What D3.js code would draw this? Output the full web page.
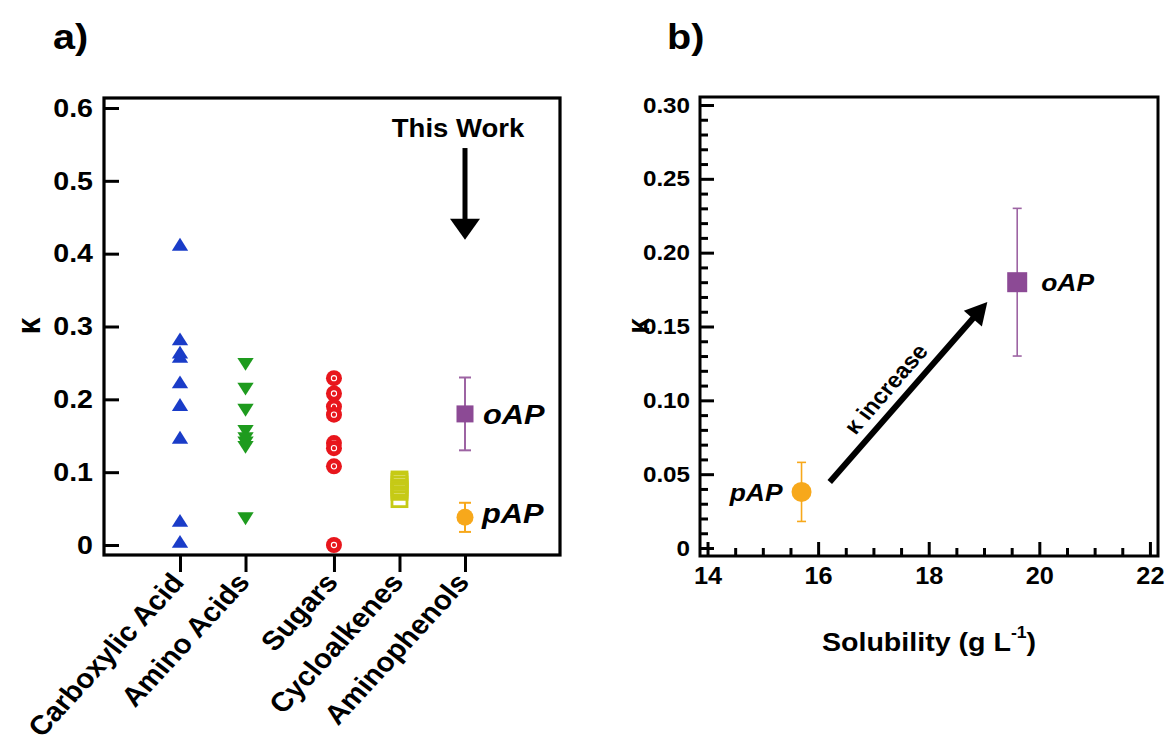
<!DOCTYPE html>
<html>
<head>
  <meta charset="utf-8">
  <script src="https://d3js.org/d3.v7.min.js"></script>
  <style>
    body { margin: 0; background: #fff; }
    svg { display: block; }
    text { font-family: "Liberation Sans", Arial, sans-serif; font-weight: bold; fill: #000; }
  </style>
</head>
<body>
  <div id="chart"></div>

  <script>
    // panel a: kappa by compound class
    const categories = ["Carboxylic Acid", "Amino Acids", "Sugars", "Cycloalkenes", "Aminophenols"];
    const catPos = [1, 2, 3.35, 4.35, 5.35];
    const carboxylic = [0.41, 0.28, 0.262, 0.256, 0.221, 0.19, 0.145, 0.031, 0.002];
    const aminoAcids = [0.251, 0.217, 0.188, 0.159, 0.149, 0.143, 0.137, 0.039];
    const sugars = [0.229, 0.208, 0.19, 0.179, 0.14, 0.133, 0.108, 0];
    const cycloalkenes = [0.09, 0.087, 0.083, 0.079, 0.076, 0.073, 0.063];
    const yTicksA = [0, 0.1, 0.2, 0.3, 0.4, 0.5, 0.6];

    // this work (both panels)
    const names = ["oAP", "pAP"];
    const kappa = [0.18, 0.038];
    const kappaErr = [0.05, 0.02];
    const solubility = [19.6, 15.7];

    // panel b ticks
    const xTicksB = [14, 16, 18, 20, 22];
    const yTicksB = [0, 0.05, 0.10, 0.15, 0.20, 0.25, 0.30];

    const colors = { blue: "#1a3cc8", green: "#1e9b1e", red: "#e8161c", yellow: "#c6ca16",
                     oAP: "#8c4a95", oAPbar: "#9d64a3", pAP: "#f7a81b" };

    // the figure's lettering is slightly wide
    const SX = 1.1;

    const svg = d3.select("#chart").append("svg")
      .attr("width", 1167).attr("height", 747);

    function label(g, x, y, str, size, rot, extra) {
      const t = g.append("text")
        .attr("transform", `translate(${x},${y}) scale(${SX},1)` + (rot ? ` rotate(${rot})` : ""))
        .style("font-size", size + "px")
        .text(str);
      if (extra) extra(t);
      return t;
    }

    // ---------- panel a ----------
    const xA = d3.scaleLinear().domain([-0.16, 6.8]).range([104, 560]);
    const yA = d3.scaleLinear().domain([-0.0137, 0.6137]).range([555, 98]);
    const gA = svg.append("g");

    // y axis with inward ticks
    gA.append("g")
      .attr("transform", `translate(${xA.range()[0]},0)`)
      .call(d3.axisLeft(yA).tickValues(yTicksA).tickSize(-15)
        .tickFormat(d => d === 0 ? "0" : d3.format(".1f")(d)))
      .call(g => g.select(".domain").remove())
      .call(g => g.selectAll("line").attr("stroke", "#000").attr("stroke-width", 3))
      .call(g => g.selectAll("text").attr("font-family", null).attr("x", 0)
        .attr("transform", `translate(-11,0) scale(${SX},1)`)
        .style("font-size", "26px"));

    // category axis with outward ticks and rotated labels
    gA.append("g")
      .attr("transform", `translate(0,${yA.range()[0]})`)
      .call(d3.axisBottom(xA).tickValues(catPos).tickSize(17)
        .tickFormat((d, i) => categories[i]))
      .call(g => g.select(".domain").remove())
      .call(g => g.selectAll("line").attr("stroke", "#000").attr("stroke-width", 3))
      .call(g => g.selectAll("text")
        .attr("font-family", null)
        .style("font-size", "27px")
        .attr("text-anchor", "end")
        .attr("x", 0).attr("y", 0).attr("dy", 0)
        .attr("transform", `translate(5,28) scale(${SX},1) rotate(-50)`));

    // frame
    gA.append("rect")
      .attr("x", xA.range()[0]).attr("y", yA.range()[1])
      .attr("width", xA.range()[1] - xA.range()[0])
      .attr("height", yA.range()[0] - yA.range()[1])
      .attr("fill", "none").attr("stroke", "#000").attr("stroke-width", 3.2);

    const tri = d3.symbol().type(d3.symbolTriangle).size(95);

    gA.selectAll(".carb").data(carboxylic).join("path")
      .attr("d", tri)
      .attr("transform", d => `translate(${xA(catPos[0])},${yA(d)}) scale(${SX},1)`)
      .attr("fill", colors.blue);

    gA.selectAll(".amino").data(aminoAcids).join("path")
      .attr("d", tri)
      .attr("transform", d => `translate(${xA(catPos[1])},${yA(d)}) scale(${SX},1) rotate(180)`)
      .attr("fill", colors.green);

    const sug = gA.selectAll(".sug").data(sugars).join("g")
      .attr("transform", d => `translate(${xA(catPos[2])},${yA(d)})`);
    sug.append("circle").attr("r", 8).attr("fill", colors.red);
    sug.append("circle").attr("r", 2.6).attr("fill", "none")
      .attr("stroke", "#fff").attr("stroke-width", 1.1);

    gA.selectAll(".cyc").data(cycloalkenes).join("rect")
      .attr("x", xA(catPos[3]) - 7.5).attr("y", d => yA(d) - 7.5)
      .attr("width", 15).attr("height", 15)
      .attr("fill", "none").attr("stroke", colors.yellow).attr("stroke-width", 2.8);

    // this work markers with error bars
    function drawWork(g, xs, ys, xv, opts) {
      names.forEach((n, i) => {
        const x = xs(xv[i]);
        const lo = ys(kappa[i] - kappaErr[i]), hi = ys(kappa[i] + kappaErr[i]);
        const col = n === "oAP" ? colors.oAPbar : colors.pAP;
        g.append("line").attr("x1", x).attr("x2", x).attr("y1", lo).attr("y2", hi)
          .attr("stroke", col).attr("stroke-width", opts.ew);
        [lo, hi].forEach(y => g.append("line")
          .attr("x1", x - opts.cap).attr("x2", x + opts.cap).attr("y1", y).attr("y2", y)
          .attr("stroke", col).attr("stroke-width", opts.ew));
        const y = ys(kappa[i]);
        if (n === "oAP") {
          g.append("rect").attr("x", x - opts.sq / 2).attr("y", y - opts.sq / 2)
            .attr("width", opts.sq).attr("height", opts.sq).attr("fill", colors.oAP);
        } else {
          g.append("circle").attr("cx", x).attr("cy", y).attr("r", opts.r).attr("fill", colors.pAP);
        }
      });
    }

    drawWork(gA, xA, yA, [catPos[4], catPos[4]], { ew: 2, cap: 6, sq: 17, r: 8.5 });

    const italic = t => t.style("font-style", "italic");
    label(gA, xA(catPos[4]) + 18, yA(kappa[0]) + 10, "oAP", 28, 0, italic);
    label(gA, xA(catPos[4]) + 17, yA(kappa[1]) + 6, "pAP", 28, 0, italic);

    // "This Work" arrow
    const twX = xA(catPos[4]);
    label(gA, twX - 7, 137, "This Work", 25, 0, t => t.attr("text-anchor", "middle"));
    gA.append("line").attr("x1", twX).attr("x2", twX)
      .attr("y1", yA(0.545)).attr("y2", yA(0.445))
      .attr("stroke", "#000").attr("stroke-width", 5);
    gA.append("path")
      .attr("d", `M${twX - 15},${yA(0.448)} L${twX + 15},${yA(0.448)} L${twX},${yA(0.419)} Z`)
      .attr("fill", "#000");

    label(gA, 40, 326, "κ", 30, -90, t => t.attr("text-anchor", "middle"));
    label(svg, 53, 49, "a)", 36);

    // ---------- panel b ----------
    const xB = d3.scaleLinear().domain([13.864, 22.146]).range([700, 1158]);
    const yB = d3.scaleLinear().domain([-0.0054, 0.3054]).range([556, 97]);
    const gB = svg.append("g");

    const yMinor = d3.range(0, 0.301, 0.01).filter(v => Math.abs(v * 20 - Math.round(v * 20)) > 1e-6);
    const xMinor = d3.range(14, 22.01, 0.5).filter(v => v % 2 !== 0);

    gB.append("g").attr("transform", `translate(${xB.range()[0]},0)`)
      .call(d3.axisLeft(yB).tickValues(yMinor).tickSize(-8).tickFormat(""))
      .call(g => g.select(".domain").remove())
      .call(g => g.selectAll("line").attr("stroke", "#000").attr("stroke-width", 3));
    gB.append("g").attr("transform", `translate(${xB.range()[0]},0)`)
      .call(d3.axisLeft(yB).tickValues(yTicksB).tickSize(-14)
        .tickFormat(d => d === 0 ? "0" : d3.format(".2f")(d)))
      .call(g => g.select(".domain").remove())
      .call(g => g.selectAll("line").attr("stroke", "#000").attr("stroke-width", 3))
      .call(g => g.selectAll("text").attr("font-family", null).attr("x", 0)
        .attr("transform", `translate(-10,0) scale(${SX},1)`)
        .style("font-size", "22px"));

    gB.append("g").attr("transform", `translate(0,${yB.range()[0]})`)
      .call(d3.axisBottom(xB).tickValues(xMinor).tickSize(-8).tickFormat(""))
      .call(g => g.select(".domain").remove())
      .call(g => g.selectAll("line").attr("stroke", "#000").attr("stroke-width", 3));
    gB.append("g").attr("transform", `translate(0,${yB.range()[0]})`)
      .call(d3.axisBottom(xB).tickValues(xTicksB).tickSize(-14).tickPadding(12)
        .tickFormat(d3.format("d")))
      .call(g => g.select(".domain").remove())
      .call(g => g.selectAll("line").attr("stroke", "#000").attr("stroke-width", 3))
      .call(g => g.selectAll("text").attr("font-family", null)
        .attr("transform", `scale(${SX},1)`)
        .style("font-size", "23px"));

    gB.append("rect")
      .attr("x", xB.range()[0]).attr("y", yB.range()[1])
      .attr("width", xB.range()[1] - xB.range()[0])
      .attr("height", yB.range()[0] - yB.range()[1])
      .attr("fill", "none").attr("stroke", "#000").attr("stroke-width", 3);

    drawWork(gB, xB, yB, solubility, { ew: 1.6, cap: 4.5, sq: 20, r: 10 });

    label(gB, xB(solubility[0]) + 24, yB(kappa[0]) + 9, "oAP", 24, 0, italic);
    label(gB, xB(solubility[1]) - 19, yB(kappa[1]) + 9, "pAP", 24, 0,
      t => italic(t).attr("text-anchor", "end"));

    // kappa increase arrow
    const ax0 = xB(16.21), ay0 = yB(0.0447), ax1 = xB(19.06), ay1 = yB(0.1666);
    const len = Math.hypot(ax1 - ax0, ay1 - ay0);
    const ux = (ax1 - ax0) / len, uy = (ay1 - ay0) / len;
    const hl = 22, hw = 12;
    const bx = ax1 - ux * hl, by = ay1 - uy * hl;
    gB.append("line").attr("x1", ax0).attr("y1", ay0).attr("x2", bx + ux * 2).attr("y2", by + uy * 2)
      .attr("stroke", "#000").attr("stroke-width", 6);
    gB.append("path")
      .attr("d", `M${ax1},${ay1} L${bx - uy * hw},${by + ux * hw} L${bx + uy * hw},${by - ux * hw} Z`)
      .attr("fill", "#000");
    // rotate before the horizontal stretch so the text ends up parallel to the arrow
    const ang = Math.atan2((ay1 - ay0) * SX, ax1 - ax0) * 180 / Math.PI;
    const mx = ax0 + (ax1 - ax0) * 0.45 + uy * 11, my = ay0 + (ay1 - ay0) * 0.45 - ux * 11;
    label(gB, mx, my, "κ increase", 22, ang, t => t.attr("text-anchor", "middle"));

    // axis titles
    const xt = label(gB, 929, 651, null, 26, 0, t => t.attr("text-anchor", "middle"));
    xt.append("tspan").text("Solubility (g L");
    xt.append("tspan").attr("dy", -13).style("font-size", "16px").text("-1");
    xt.append("tspan").attr("dy", 13).text(")");

    label(gB, 649, 326, "κ", 28, -90, t => t.attr("text-anchor", "middle"));
    label(svg, 667, 49, "b)", 36);
  </script>
</body>
</html>
